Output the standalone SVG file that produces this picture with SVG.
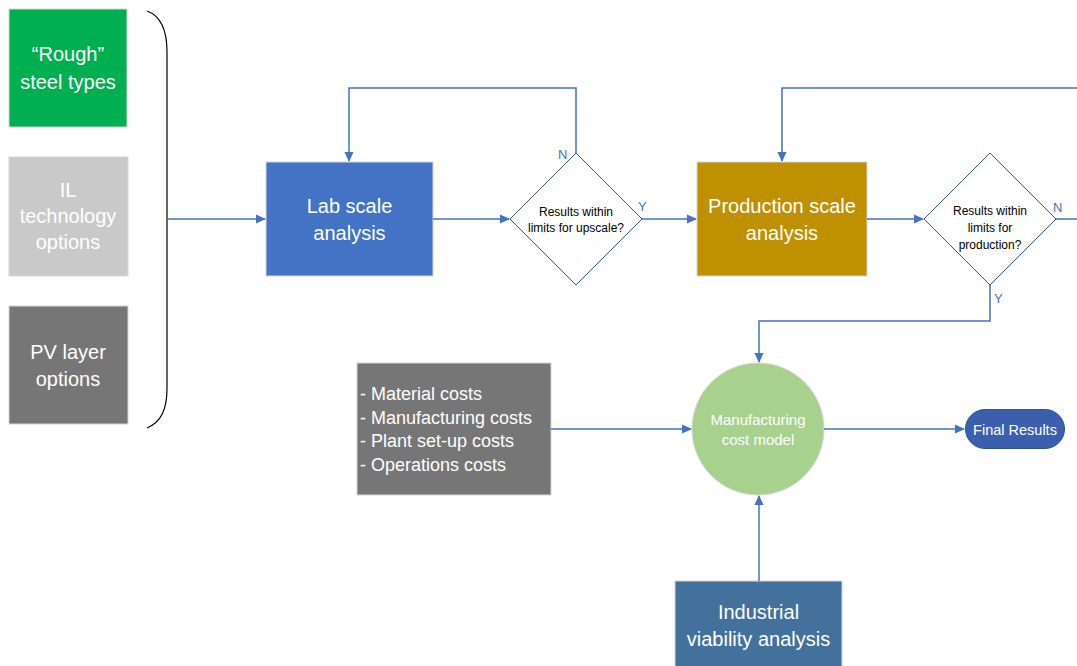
<svg xmlns="http://www.w3.org/2000/svg" width="1077" height="666" viewBox="0 0 1077 666">
<defs>
<marker id="arr" markerWidth="10" markerHeight="10" refX="9" refY="5" orient="auto" markerUnits="userSpaceOnUse">
<path d="M0,0.5 L10,5 L0,9.5 Z" fill="#4472C4"/>
</marker>
<style>
.t{font-family:"Liberation Sans","Open Sans",sans-serif;fill:#fff;text-anchor:middle}
.big{font-size:20px}
.box{stroke:#D6D6D6;stroke-width:1}
.c{fill:none;stroke:#4472C4;stroke-width:1.5}
.dia{fill:#fff;stroke:#2F5597;stroke-width:1}
.dt{font-family:"Liberation Sans","Open Sans",sans-serif;font-size:12px;fill:#000;text-anchor:middle}
.lbl{font-family:"Liberation Sans","Open Sans",sans-serif;font-size:13px;fill:#4472C4}
</style>
</defs>
<rect width="1077" height="666" fill="#fff"/>

<g id="rough">
<rect class="box" x="9" y="9" width="118" height="118" fill="#00B050"/>
<text class="t big" x="68" y="61">“Rough”</text>
<text class="t big" x="68" y="89">steel types</text>
</g>
<g id="il">
<rect class="box" x="9" y="157" width="119" height="119" fill="#C9C9C9"/>
<text class="t big" x="68" y="197" fill="#F2F2F2">IL</text>
<text class="t big" x="68" y="223">technology</text>
<text class="t big" x="68" y="249">options</text>
</g>
<g id="pv">
<rect class="box" x="9" y="306" width="119" height="118" fill="#767676"/>
<text class="t big" x="68" y="359">PV layer</text>
<text class="t big" x="68" y="386">options</text>
</g>
<g id="brace">
<path d="M147,11 C161,16 167,30 167,52 L167,388 C167,410 161,422 147,428" fill="none" stroke="#000" stroke-width="1.2"/>
</g>

<g id="lab">
<rect class="box" x="266" y="162" width="167" height="114" fill="#4472C4"/>
<text class="t big" x="349.5" y="213">Lab scale</text>
<text class="t big" x="349.5" y="240">analysis</text>
</g>
<g id="dec1">
<polygon class="dia" points="576,153 642,219 576,285 510,219"/>
<text class="dt" x="576" y="216">Results within</text>
<text class="dt" x="576" y="232">limits for upscale?</text>
</g>
<g id="prod">
<rect class="box" x="697" y="162" width="170" height="114" fill="#BF9000"/>
<text class="t big" x="782" y="213">Production scale</text>
<text class="t big" x="782" y="240">analysis</text>
</g>
<g id="dec2">
<polygon class="dia" points="990,153 1056,219 990,285 924,219"/>
<text class="dt" x="990" y="215">Results within</text>
<text class="dt" x="990" y="232">limits for</text>
<text class="dt" x="990" y="249">production?</text>
</g>
<g id="costs">
<rect class="box" x="357" y="363" width="194" height="132" fill="#767676"/>
<text class="t" x="360" y="400" font-size="18" style="text-anchor:start">- Material costs</text>
<text class="t" x="360" y="424" font-size="18" style="text-anchor:start">- Manufacturing costs</text>
<text class="t" x="360" y="447" font-size="18" style="text-anchor:start">- Plant set-up costs</text>
<text class="t" x="360" y="471" font-size="18" style="text-anchor:start">- Operations costs</text>
</g>
<g id="model">
<circle cx="758" cy="429" r="66" fill="#A9D18E" stroke="#D6D6D6" stroke-width="1"/>
<text class="t" x="758" y="425" font-size="15" fill="#F2F8EE">Manufacturing</text>
<text class="t" x="758" y="445" font-size="15" fill="#F2F8EE">cost model</text>
</g>
<g id="final">
<rect x="965.5" y="409.5" width="99" height="39" rx="19.5" fill="#3B5FAD" stroke="#2F5597" stroke-width="1"/>
<text class="t" x="1015" y="435" font-size="14.5">Final Results</text>
</g>
<g id="industrial">
<rect class="box" x="675" y="581" width="167" height="90" fill="#44719C"/>
<text class="t big" x="758.5" y="619">Industrial</text>
<text class="t big" x="758.5" y="646">viability analysis</text>
</g>

<g id="connectors">
<path class="c" d="M167,219 L265,219" marker-end="url(#arr)"/>
<path class="c" d="M433,219 L509,219" marker-end="url(#arr)"/>
<path class="c" d="M642,219 L696,219" marker-end="url(#arr)"/>
<path class="c" d="M576,153 L576,88 L349,88 L349,161" marker-end="url(#arr)"/>
<path class="c" d="M867,219 L923,219" marker-end="url(#arr)"/>
<path class="c" d="M1056,219 L1077,219"/>
<path class="c" d="M1077,88 L782,88 L782,161" marker-end="url(#arr)"/>
<path class="c" d="M990,285 L990,321 L759,321 L759,362" marker-end="url(#arr)"/>
<path class="c" d="M551,429 L691,429" marker-end="url(#arr)"/>
<path class="c" d="M824,429 L964,429" marker-end="url(#arr)"/>
<path class="c" d="M759,581 L759,496" marker-end="url(#arr)"/>
<text class="lbl" x="558" y="159">N</text>
<text class="lbl" x="638" y="211">Y</text>
<text class="lbl" x="1053" y="212">N</text>
<text class="lbl" x="994" y="303">Y</text>
</g>
</svg>
